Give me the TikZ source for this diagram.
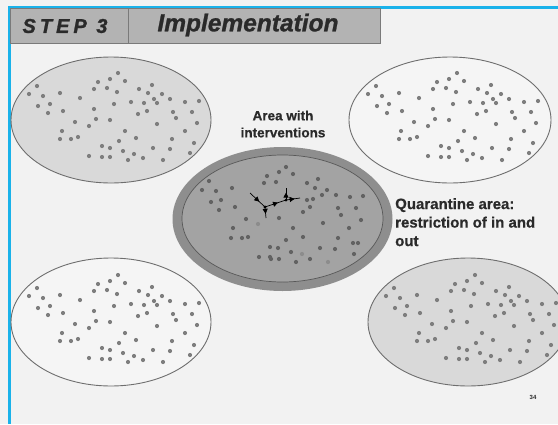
\documentclass[tikz,border=0pt]{standalone}
\usepackage{fontspec}
\setmainfont{Liberation Sans}
\usetikzlibrary{arrows.meta,decorations.markings}
\definecolor{bgc}{HTML}{F2F2F2}
\definecolor{bluec}{HTML}{1AB2EA}
\definecolor{hdrc}{HTML}{B3B3B3}
\definecolor{hdrline}{HTML}{7A7A7A}
\definecolor{lightfill}{HTML}{D9D9D9}
\definecolor{whitefill}{HTML}{F5F5F5}
\definecolor{rimc}{HTML}{6E6E6E}
\definecolor{ringc}{HTML}{8E8E8E}
\definecolor{innerc}{HTML}{A3A3A3}
\definecolor{dotc}{HTML}{7E7E7E}
\definecolor{dotd}{HTML}{626262}
\definecolor{dotl}{HTML}{8C8C8C}
\definecolor{txtc}{HTML}{2A2A2A}
\def\outerdots{(-74,-34),(-82,-26),(-68,-24),(-61,-16),(-73,-14),(-63,-7),(-51,-27),(-31,-22),(-48,-9),(-36,2),(-49,11),(-51,19),(-40,19),(-33,17),(-22,6),(-15,-1),(-17,-11),(-13,-38),(-1,-41),(7,-47),(14,-39),(-4,-32),(-17,-31),(6,-28),(3,-16),(-1,0),(14,11),(8,21),(25,18),(-9,26),(-1,28),(-22,36),(-9,37),(-1,37),(12,31),(17,40),(23,34),(32,38),(42,28),(52,40),(59,29),(61,19),(28,-31),(41,-35),(37,-27),(43,-21),(46,-17),(51,-26),(59,-21),(74,-18),(88,-19),(20,-18),(33,-17),(36,-9),(27,-6),(46,4),(62,-8),(65,-2),(81,-8),(86,3),(74,11),(83,23),(79,33)}
\def\innerdots{(-74,-38),(-81,-29),(-67,-28),(-72,-17),(-62,-19),(-51,-31),(-48,-12),(-64,-9),(-37,0),(-50,9),(-52,19),(-41,19),(-35,18),(-13,28),(-5,29),(-16,-43),(-4,-47),(3,-52),(10,-45),(-7,-37),(-19,-36),(24,-36),(35,-40),(32,-31),(44,-29),(39,-24),(53,-24),(67,-22),(80,-23),(24,-19),(27,-12),(30,-20),(55,-11),(58,-4),(73,-11),(78,1),(40,4),(55,19),(66,9),(70,24),(20,-7),(10,9),(20,18),(3,21),(-4,-1),(-24,38),(-13,38),(-12,40),(-4,40),(8,33),(13,43),(27,40),(37,29),(52,30),(71,35),(75,24)}
\def\innerlight{(-25,5),(19,35),(45,43)}
\tikzset{
  oval/.style={draw=rimc,line width=0.9pt},
  hdr/.style={fill=hdrc,draw=hdrline,line width=0.8pt},
  midarrow/.style={draw=black,line width=0.7pt,postaction={decorate},
    decoration={markings,mark=at position 0.62 with {\arrow{Triangle[length=5pt,width=5pt]}}}},
  lbl/.style={text=txtc,align=left,inner sep=0pt},
}
\begin{document}
\begin{tikzpicture}[x=1pt,y=-1pt]
\fill[bgc] (0,0) rectangle (558,424);
\useasboundingbox (0,0) rectangle (558,424);
\clip (0,0) rectangle (558,424);
% blue frame
\fill[bluec] (8,6) rectangle (558,8.5);
\fill[bluec] (8,6) rectangle (10.5,424);
% header
\draw[hdr] (10.5,8.5) rectangle (128,43);
\draw[hdr] (128,8.5) rectangle (380,43);
\node[text=txtc,font=\fontsize{20}{22}\selectfont\bfseries\itshape\addfontfeatures{LetterSpace=20,FakeBold=1.2}] (step) at (65,26) {STEP 3};
\node[text=txtc,font=\fontsize{24.5}{27}\selectfont\bfseries\itshape\addfontfeatures{FakeBold=1}] (impl) at (248,25) {Implementation};
% outer ovals
\draw[oval,fill=lightfill] (111,120) ellipse [x radius=100pt,y radius=63pt];
\draw[oval,fill=whitefill] (450,120) ellipse [x radius=101pt,y radius=63pt];
\draw[oval,fill=whitefill] (111,322) ellipse [x radius=100pt,y radius=64pt];
\draw[oval,fill=lightfill] (468,322) ellipse [x radius=100pt,y radius=64pt];
\foreach \cx/\cy in {111/120,450/120,111/322,468/322}{
  \begin{scope}[shift={(\cx,\cy)}]
    \foreach \p in \outerdots \fill[dotc] \p circle (2.1pt);
  \end{scope}}
% central area
\fill[ringc] (282.5,219) ellipse [x radius=110pt,y radius=72pt];
\draw[draw=rimc!80!black,line width=0.7pt,fill=innerc] (282.5,218.5) ellipse [x radius=100.5pt,y radius=63.5pt];
\begin{scope}[shift={(283,219)}]
  \foreach \p in \innerdots \fill[dotd] \p circle (2.1pt);
  \foreach \p in \innerlight \fill[dotl] \p circle (2.1pt);
\end{scope}
% interventions network
\coordinate (na) at (250,193);
\coordinate (nb) at (265,207);
\coordinate (nc) at (286,200);
\coordinate (nd) at (286,188);
\coordinate (ne) at (300,198);
\coordinate (nf) at (266,218);
\draw[midarrow] (na) -- (nb);
\draw[midarrow] (nb) -- (nc);
\draw[midarrow] (nc) -- (nd);
\draw[midarrow] (nc) -- (ne);
\draw[midarrow] (nb) -- (nf);
\fill[black] (nb) circle (1.7pt);
\fill[black] (nc) circle (1.5pt);
% labels
\node[lbl,align=center,font=\fontsize{13.5}{17}\selectfont\bfseries\addfontfeatures{FakeBold=0.6}] (area) at (283,124) {Area with\\interventions};
\node[lbl,anchor=north west,font=\fontsize{15}{18.5}\selectfont\bfseries\addfontfeatures{FakeBold=0.6}] (quar) at (395,198) {Quarantine area:\\restriction of in and\\out};
\node[lbl,font=\fontsize{6}{7}\selectfont\bfseries] (pg) at (533,397) {34};
\end{tikzpicture}
\end{document}
